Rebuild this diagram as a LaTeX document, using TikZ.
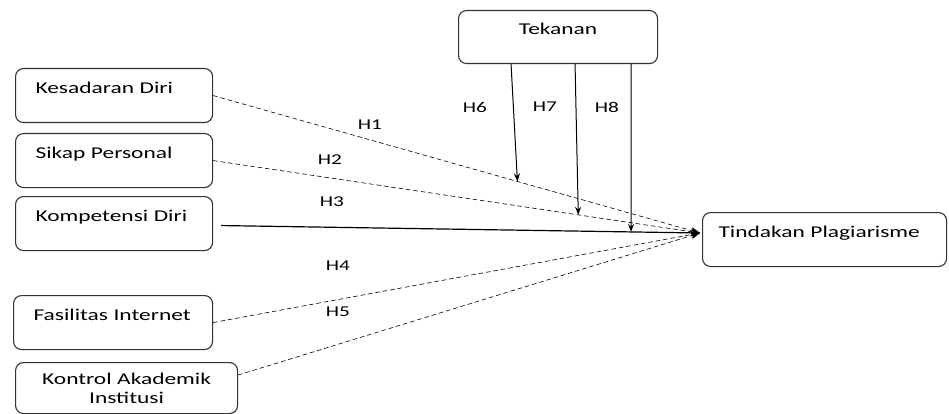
\documentclass[tikz,border=0pt]{standalone}
\usepackage{fontspec}
\setmainfont{Carlito}[FakeStretch=1.42]
\usetikzlibrary{arrows.meta, positioning, calc}

\begin{document}
\begin{tikzpicture}[
      x=1pt, y=-1pt,
      font=\fontsize{16.5}{19}\selectfont,
      box/.style={draw=black!80, line width=1.1pt, rounded corners=8pt, anchor=north west,
        align=left, inner xsep=20pt, inner ysep=0pt, text height=25pt, text depth=29pt},
      hyp/.style={font=\fontsize{15}{18}\selectfont, inner sep=1pt},
      lnk/.style={semithick, dash pattern=on 4.5pt off 3pt, -{Stealth[length=9pt, width=7pt]}},
      mod/.style={line width=1pt, -{Stealth[length=8pt, width=6pt]}},
    ]
    \useasboundingbox (0,0) rectangle (949,414);
    % variables (left column)
    \node[box, text width=157pt] (kd) at (15,68) {Kesadaran Diri};
    \node[box, text width=157pt] (sp) at (15,133) {Sikap Personal};
    \node[box, text width=157pt] (kp) at (15,196) {Kompetensi Diri};
    \node[box, text width=159pt] (fi) at (13,295) {Fasilitas Internet};
    \node[box, text width=182pt, align=center, text height=, text depth=,
      minimum height=51pt] (kk) at (15,362) {Kontrol Akademik\\Institusi};
    % moderator and outcome
    \node[box, text width=159pt, align=center, text height=24pt, text depth=29pt]
      (te) at (458,10) {Tekanan};
    \node[box, text width=212pt, inner xsep=16pt] (ti) at (702,212) {Tindakan Plagiarisme};
    \coordinate (tip) at (700,233);
    % direct paths H1--H5
    \draw[lnk] (kd.east) -- coordinate[pos=0.625] (m6) (tip);
    \draw[lnk] (sp.east) -- coordinate[pos=0.75] (m7) (tip);
    \coordinate (kps) at ($(kp.east)+(8,2)$);
    \draw[line width=1.2pt, -{Stealth[length=9pt, width=7pt]}] (kps) -- coordinate[pos=0.856] (m8) (tip);
    \draw[lnk] (fi.east) -- (tip);
    \coordinate (kks) at ($(kk.east)+(0,-13)$);
    \draw[lnk] (kks) -- (tip);
    % moderating paths H6--H8
    \coordinate (t6) at ($(te.south)+(-47,0)$);
    \coordinate (t7) at ($(te.south)+(17,0)$);
    \coordinate (t8) at ($(te.south)+(73,0)$);
    \draw[mod] (t6) -- (m6);
    \draw[mod] (t7) -- (m7);
    \draw[mod] (t8) -- (m8);
    % labels
    \node[hyp] (h1) at (370,125) {H1};
    \node[hyp] (h2) at (330,160) {H2};
    \node[hyp] (h3) at (332,202) {H3};
    \node[hyp] (h4) at (338,266) {H4};
    \node[hyp] (h5) at (338,312) {H5};
    \node[hyp] (h6) at (475,107) {H6};
    \node[hyp] (h7) at (545,107) {H7};
    \node[hyp] (h8) at (607,107) {H8};
  \end{tikzpicture}
\end{document}
